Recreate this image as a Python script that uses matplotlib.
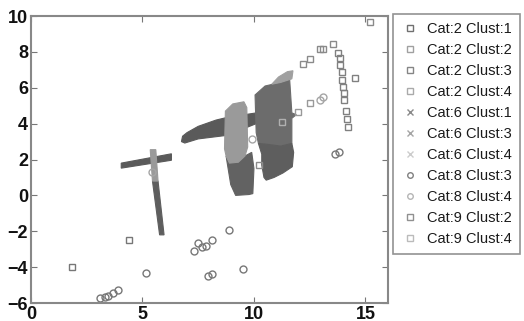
import numpy as np
import matplotlib.pyplot as plt

plt.rcParams['font.family'] = ['Liberation Sans', 'DejaVu Sans']

# scattered points per series (x, y)
c2k1_x = [1.86, 4.40]
c2k1_y = [-3.97, -2.50]
c2k2_x = [15.21, 12.19, 12.53, 12.98, 13.10, 13.54]
c2k2_y = [9.68, 7.31, 7.60, 8.14, 8.16, 8.42]
c2k3_x = [13.79, 13.85, 13.88, 13.94, 13.97, 14.00, 14.03, 14.05, 14.12, 14.17, 14.20, 14.54]
c2k3_y = [7.95, 7.64, 7.27, 6.90, 6.43, 6.06, 5.69, 5.32, 4.71, 4.24, 3.80, 6.53]
c2k4_x = [12.53, 11.98]
c2k4_y = [5.17, 4.67]
c9k2_x = [10.22]
c9k2_y = [1.69]
c9k4_x = [11.26]
c9k4_y = [4.11]
c8k3_x = [8.88, 8.14, 7.50, 7.32, 7.69, 7.84, 5.16, 7.92, 8.10, 9.52,
          3.08, 3.30, 3.45, 3.68, 3.90, 13.65, 13.80]
c8k3_y = [-1.93, -2.49, -2.64, -3.08, -2.86, -2.83, -4.31, -4.49, -4.38, -4.12,
          -5.74, -5.66, -5.62, -5.46, -5.27, 2.31, 2.42]
c8k4_x = [9.93, 12.98, 13.10, 5.45]
c8k4_y = [3.13, 5.32, 5.47, 1.30]

# dense clusters traced as outlines
c6k1_bar_x = [4.05, 4.05, 6.30, 6.30]
c6k1_bar_y = [1.52, 1.80, 2.32, 1.96]
c6k1_wedge_x = [6.75, 6.80, 7.00, 7.50, 8.30, 8.80, 10.10, 10.10, 8.80, 7.50, 6.90]
c6k1_wedge_y = [3.00, 3.30, 3.50, 3.85, 4.20, 4.35, 4.60, 4.00, 3.35, 3.15, 2.92]
c6k1_stem_x = [5.45, 5.70, 5.97, 5.77]
c6k1_stem_y = [0.80, 0.80, -2.20, -2.20]
c6k3_stem_x = [5.35, 5.60, 5.70, 5.45]
c6k3_stem_y = [2.55, 2.55, 0.80, 0.80]
c6k3_mid_x = [8.72, 9.05, 9.55, 9.68, 9.72, 9.60, 9.30, 8.90, 8.75, 8.68]
c6k3_mid_y = [4.70, 5.10, 5.22, 4.90, 2.70, 2.20, 1.85, 1.80, 2.20, 2.60]
c6k1_low_x = [8.75, 8.90, 9.30, 9.60, 9.90, 10.00, 9.95, 9.78, 9.18, 8.96]
c6k1_low_y = [2.20, 1.80, 1.85, 2.20, 2.40, 1.50, 0.10, 0.05, 0.00, 0.60]
c6k4_up_x = [10.05, 10.50, 11.20, 11.60, 11.70, 11.90, 11.70, 11.70, 11.20, 10.60, 10.20, 10.10]
c6k4_up_y = [5.60, 6.10, 6.30, 6.50, 4.60, 4.50, 4.30, 2.90, 2.75, 2.85, 2.90, 3.50]
c6k1_right_x = [10.20, 10.60, 11.20, 11.70, 11.78, 11.72, 11.30, 10.90, 10.55, 10.45, 10.35, 10.35]
c6k1_right_y = [2.90, 2.85, 2.75, 2.90, 2.40, 1.60, 1.25, 1.00, 0.85, 1.00, 1.70, 2.30]
c6k3_tip_x = [10.80, 11.10, 11.50, 11.75, 11.70, 11.20]
c6k3_tip_y = [6.20, 6.60, 6.90, 6.95, 6.50, 6.30]

labels = ['Cat:2 Clust:1', 'Cat:2 Clust:2', 'Cat:2 Clust:3', 'Cat:2 Clust:4',
          'Cat:6 Clust:1', 'Cat:6 Clust:3', 'Cat:6 Clust:4',
          'Cat:8 Clust:3', 'Cat:8 Clust:4', 'Cat:9 Clust:2', 'Cat:9 Clust:4']

fig = plt.figure(figsize=(5.24, 3.21), dpi=100)
ax = fig.add_axes([0.059, 0.056, 0.681, 0.894])

ax.fill(c6k1_bar_x, c6k1_bar_y, color='#5a5a5a', lw=0.8)
ax.fill(c6k1_wedge_x, c6k1_wedge_y, color='#5a5a5a', lw=0.8)
ax.fill(c6k1_stem_x, c6k1_stem_y, color='#5e5e5e', lw=0.8)
ax.fill(c6k3_stem_x, c6k3_stem_y, color='#9a9a9a', lw=0.8)
ax.fill(c6k4_up_x, c6k4_up_y, color='#6c6c6c', lw=0.8)
ax.fill(c6k1_right_x, c6k1_right_y, color='#5e5e5e', lw=0.8)
ax.fill(c6k1_low_x, c6k1_low_y, color='#626262', lw=0.8)
ax.fill(c6k3_mid_x, c6k3_mid_y, color='#9a9a9a', lw=0.8)
ax.fill(c6k3_tip_x, c6k3_tip_y, color='#a0a0a0', lw=0.8)

ms = 5
ax.plot(c2k1_x, c2k1_y, 's', mfc='none', mec='#777777', ms=ms, mew=1)
ax.plot(c2k2_x, c2k2_y, 's', mfc='none', mec='#8a8a8a', ms=ms, mew=1)
ax.plot(c2k3_x, c2k3_y, 's', mfc='none', mec='#808080', ms=ms, mew=1)
ax.plot(c2k4_x, c2k4_y, 's', mfc='none', mec='#999999', ms=ms, mew=1)
ax.plot(c9k2_x, c9k2_y, 's', mfc='none', mec='#8c8c8c', ms=ms, mew=1)
ax.plot(c9k4_x, c9k4_y, 's', mfc='none', mec='#b0b0b0', ms=ms, mew=1)
ax.plot(c8k3_x, c8k3_y, 'o', mfc='none', mec='#777777', ms=ms, mew=1)
ax.plot(c8k4_x, c8k4_y, 'o', mfc='none', mec='#a5a5a5', ms=ms, mew=1)

# legend handles
styles = [('s', '#707070'), ('s', '#a0a0a0'), ('s', '#858585'), ('s', '#aaaaaa'),
          ('x', '#8a8a8a'), ('x', '#a5a5a5'), ('x', '#cccccc'),
          ('o', '#808080'), ('o', '#b5b5b5'), ('s', '#909090'), ('s', '#bbbbbb')]
handles = [plt.Line2D([], [], ls='none', marker=m, mfc='none', mec=c, ms=4, mew=1)
           for m, c in styles]
leg = fig.legend(handles, labels, loc='upper left', bbox_to_anchor=(393 / 524, 1 - 14 / 321),
                 fontsize=10.5, frameon=True, fancybox=False, labelspacing=0.48,
                 handlelength=1.2, handletextpad=0.6, borderpad=0.55, borderaxespad=0)
leg.get_frame().set_edgecolor('#777777')
leg.get_frame().set_linewidth(1.2)
for t in leg.get_texts():
    t.set_color('#1a1a1a')

ax.set_xlim(0, 16)
ax.set_ylim(-6, 10)
ax.set_xticks([0, 5, 10, 15])
ax.set_yticks(np.arange(-6, 11, 2))
ax.tick_params(direction='in', top=True, right=True, length=4, color='#777777',
               labelsize=13, labelcolor='#111111', pad=2)
for lbl in ax.get_xticklabels() + ax.get_yticklabels():
    lbl.set_fontweight('bold')
for s in ax.spines.values():
    s.set_color('#888888')
    s.set_linewidth(1.5)

fig.savefig('out.png', dpi=100)
